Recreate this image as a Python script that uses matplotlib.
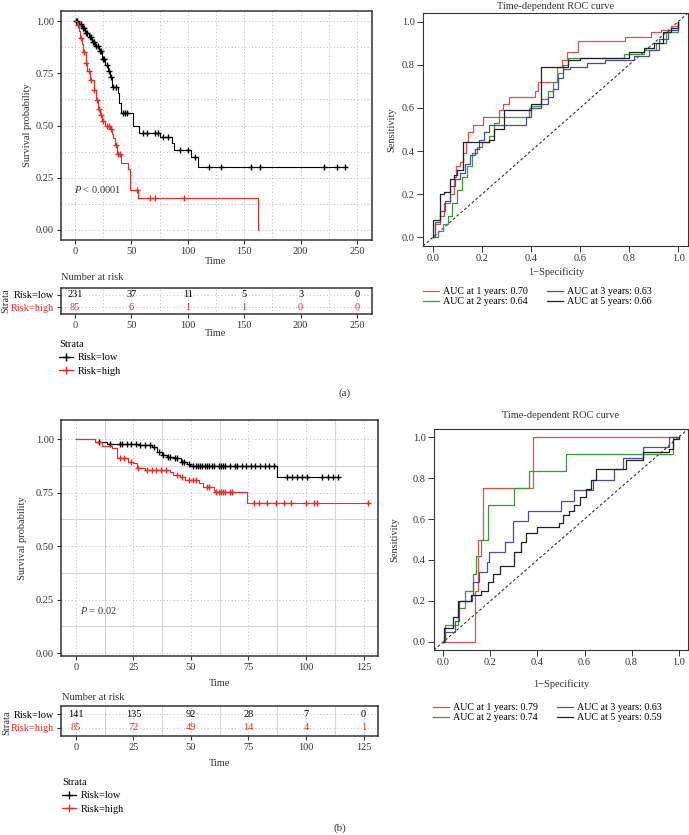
import numpy as np
import matplotlib
matplotlib.use('Agg')
import matplotlib.pyplot as plt
from matplotlib.lines import Line2D
from matplotlib.ticker import FormatStrFormatter

plt.rcParams['font.family'] = ['Liberation Serif', 'DejaVu Serif']
plt.rcParams['mathtext.fontset'] = 'custom'
plt.rcParams['mathtext.it'] = 'Liberation Serif:italic'

# ---------------- data: panel (a) ----------------
a_low_t = [0, 3, 6, 9, 12, 15, 18, 21, 24, 27, 29, 31, 33, 38, 39, 40.5, 51.5, 57, 75.5, 86, 87.5, 103, 109]
a_low_s = [1, .985, .965, .945, .925, .90, .88, .855, .82, .79, .76, .73, .685, .655, .61, .56, .496, .463, .446, .415, .383, .351, .303]
a_low_end = 239.4
a_low_cens = [1, 2, 4, 5, 7, 8, 10, 11, 13, 14, 16, 17, 19, 20, 22, 23, 25, 26, 28, 30, 32, 34, 36,
              42.5, 44, 46, 60.5, 63.5, 71, 74, 78, 82.5, 93, 100.5, 106, 119, 129, 155.6, 164, 220.7, 232, 239.4]

a_high_t = [0, 2, 3.5, 4.5, 6, 7.5, 9.5, 11, 13.5, 16.5, 18.5, 20, 22, 24, 27, 31, 33, 34, 35.5, 37, 41, 47.3, 48.8, 56.1, 162.5]
a_high_s = [1, .98, .95, .92, .89, .85, .80, .76, .72, .67, .62, .58, .55, .52, .50, .485, .46, .44, .405, .365, .32, .29, .19, .152, 0]
a_high_end = None
a_high_cens = [2.5, 5, 8, 10, 12, 14, 17, 19.5, 21, 23, 25, 28, 30, 32, 36, 38, 39.5, 55.2, 66.5, 70.9, 96.9]

a_risk_times = [0, 50, 100, 150, 200, 250]
a_risk_low = [231, 37, 11, 5, 3, 0]
a_risk_high = [85, 6, 1, 1, 0, 0]

# ROC curves (a): 1, 2, 3, 5 years
roc_a_fpr = {
    1: [0, 0.01, 0.03, 0.045, 0.07, 0.085, 0.095, 0.11, 0.125, 0.135, 0.145, 0.165, 0.205, 0.27, 0.285, 0.31,
        0.415, 0.43, 0.505, 0.525, 0.545, 0.59, 0.785, 0.89, 0.93, 0.97, 1.0],
    2: [0, 0.02, 0.04, 0.06, 0.08, 0.10, 0.12, 0.14, 0.16, 0.18, 0.20, 0.23, 0.25, 0.27, 0.39, 0.40, 0.44,
        0.47, 0.49, 0.51, 0.53, 0.55, 0.78, 0.86, 0.91, 0.95, 1.0],
    3: [0, 0.01, 0.03, 0.05, 0.07, 0.09, 0.11, 0.13, 0.15, 0.17, 0.19, 0.21, 0.23, 0.38, 0.40, 0.44, 0.47,
        0.49, 0.51, 0.53, 0.56, 0.63, 0.70, 0.82, 0.88, 0.92, 0.96, 1.0],
    5: [0, 0, 0.028, 0.045, 0.069, 0.085, 0.10, 0.125, 0.23, 0.25, 0.29, 0.40, 0.44, 0.55, 0.60, 0.80, 0.86,
        0.90, 0.94, 0.97, 1.0],
}
roc_a_tpr = {
    1: [0, .06, .10, .16, .20, .28, .33, .35, .39, .44, .49, .52, .56, .59, .62, .65, .68, .72, .79, .82,
        .86, .91, .93, .95, .96, .98, 1.0],
    2: [0, .03, .06, .10, .16, .22, .28, .33, .39, .42, .44, .47, .53, .56, .60, .61, .64, .68, .72, .76,
        .80, .83, .85, .87, .90, .95, 1.0],
    3: [0, .07, .12, .17, .24, .27, .30, .34, .38, .41, .45, .49, .52, .56, .60, .62, .65, .69, .74, .78,
        .79, .81, .82, .84, .87, .92, .96, 1.0],
    5: [0, .08, .20, .21, .27, .29, .31, .44, .45, .50, .59, .62, .79, .82, .83, .86, .88, .90, .95, .97, 1.0],
}
roc_a_auc = {1: 0.70, 2: 0.64, 3: 0.63, 5: 0.66}

# ---------------- data: panel (b) ----------------
b_low_t = [0, 8.3, 13.3, 27.8, 32.9, 35.3, 37.5, 39.7, 42.6, 45.5, 48.4, 49.5, 87.5]
b_low_s = [1, .987, .979, .972, .965, .941, .925, .917, .91, .894, .882, .874, .821]
b_low_end = 114
b_low_cens = [10, 15, 19, 20, 22, 24, 26, 28, 30, 32, 34, 36, 38, 40, 41, 43, 44, 46, 47, 49, 51, 52, 53,
              54, 55, 56, 57, 58, 59, 60, 62, 63, 64, 65, 67, 69, 70, 72, 74, 76, 78, 80, 82, 84, 86,
              91.6, 93.8, 96, 98.1, 100.3, 106.8, 109.7, 111.9, 114]

b_high_t = [0, 8.3, 11.2, 15.5, 17.7, 18, 22.7, 25, 26.4, 30, 40.9, 42.3, 45.2, 47.4, 53.7, 55.4, 59.8, 60.5, 74.5]
b_high_s = [1, .988, .967, .956, .933, .91, .894, .886, .863, .855, .847, .832, .824, .808, .793, .777, .762, .754, .702]
b_high_end = 127
b_high_cens = [19, 21, 24, 27, 31, 33, 35, 37, 39, 44, 46, 49, 51, 52, 57, 58, 61, 62, 63, 64, 65, 67, 68,
               77.5, 79.7, 83.2, 86.8, 90.4, 93.3, 99.8, 103.5, 105, 127]

b_risk_times = [0, 25, 50, 75, 100, 125]
b_risk_low = [141, 135, 92, 28, 7, 0]
b_risk_high = [85, 72, 49, 14, 4, 1]

roc_b_fpr = {
    1: [0, 0.133, 0.145, 0.167, 0.38, 1.0],
    2: [0, 0.005, 0.06, 0.09, 0.125, 0.14, 0.16, 0.19, 0.30, 0.365, 0.52, 0.975, 1.0],
    3: [0, 0.005, 0.05, 0.065, 0.12, 0.125, 0.15, 0.185, 0.195, 0.26, 0.295, 0.36, 0.50, 0.557, 0.635,
        0.727, 0.762, 0.847, 0.96, 1.0],
    5: [0, 0.003, 0.04, 0.06, 0.117, 0.16, 0.19, 0.21, 0.24, 0.30, 0.33, 0.35, 0.40, 0.49, 0.51, 0.535,
        0.557, 0.58, 0.606, 0.627, 0.65, 0.776, 0.85, 0.96, 0.975, 1.0],
}
roc_b_tpr = {
    1: [0, 0.25, 0.5, 0.75, 1.0, 1.0],
    2: [0, 0.083, 0.167, 0.25, 0.333, 0.417, 0.5, 0.667, 0.75, 0.833, 0.917, 1.0, 1.0],
    3: [0, 0.05, 0.10, 0.20, 0.23, 0.29, 0.34, 0.39, 0.44, 0.49, 0.59, 0.64, 0.69, 0.74, 0.79,
        0.845, 0.90, 0.95, 1.0, 1.0],
    5: [0, 0.068, 0.12, 0.20, 0.23, 0.25, 0.29, 0.33, 0.37, 0.44, 0.49, 0.53, 0.56, 0.58, 0.62, 0.64,
        0.67, 0.71, 0.745, 0.79, 0.845, 0.89, 0.93, 0.94, 0.99, 1.0],
}
roc_b_auc = {1: 0.79, 2: 0.74, 3: 0.63, 5: 0.59}

KM_RED = '#ee2a24'
ROC_COLORS = {1: '#d9534f', 2: '#3a9a3a', 3: '#4a4aa8', 5: '#222222'}

# ---------------- figure helpers ----------------
W, H = 689, 835
fig = plt.figure(figsize=(W / 100, H / 100), dpi=100)


def px_axes(l, t, r, b):
    return fig.add_axes([l / W, 1 - b / H, (r - l) / W, (b - t) / H])


def fx(x):
    return x / W


def fy(y):
    return 1 - y / H


def km_grid(ax, xmaj, xmin_, ymaj, ymin_, solid_minor):
    ax.set_xticks(xmaj)
    ax.set_xticks(xmin_, minor=True)
    ax.set_yticks(ymaj)
    if ymin_ is not None:
        ax.set_yticks(ymin_, minor=True)
    ax.grid(which='major', ls=(0, (1, 2.5)), color='#bdbdbd', lw=0.7)
    if solid_minor:
        ax.grid(which='minor', ls='-', color='#d6d6d6', lw=0.8)
    else:
        ax.grid(which='minor', ls=(0, (1, 2.5)), color='#bdbdbd', lw=0.7)
    ax.set_axisbelow(True)
    for sp in ax.spines.values():
        sp.set_linewidth(1.1)
        sp.set_color('#333333')
    ax.tick_params(which='major', direction='out', length=3, width=0.8, pad=2,
                   labelsize=7.5, color='#333333', labelcolor='#333333')
    ax.tick_params(which='minor', length=0)


def draw_km(ax, t, s, t_end, cens, color):
    t = list(t)
    s = list(s)
    if t_end is not None:
        t.append(t_end)
        s.append(s[-1])
    ax.plot(t, s, drawstyle='steps-post', color=color, lw=0.8)
    idx = np.searchsorted(t, cens, side='right') - 1
    ax.plot(cens, np.array(s)[idx], ls='none', marker='+', ms=5, mew=1.0, color=color)


def draw_risk(ax, times, low, high):
    for tt, n in zip(times, low):
        ax.text(tt, 1, str(n), ha='center', va='center', fontsize=7.5, color='black')
    for tt, n in zip(times, high):
        ax.text(tt, 0, str(n), ha='center', va='center', fontsize=7.5, color=KM_RED)
    ax.set_ylim(-0.58, 1.58)
    ax.set_yticks([0, 1])
    ax.set_yticklabels(['Risk=high', 'Risk=low'])
    ax.get_yticklabels()[0].set_color(KM_RED)
    ax.get_yticklabels()[1].set_color('black')


def strata_legend(x, y):
    handles = [Line2D([], [], color='black', lw=0.9, marker='+', ms=6, mew=1.0),
               Line2D([], [], color=KM_RED, lw=0.9, marker='+', ms=6, mew=1.0)]
    leg = fig.legend(handles, ['Risk=low', 'Risk=high'], title='Strata', loc='upper left',
                     bbox_to_anchor=(fx(x), fy(y)), frameon=False, fontsize=7.5,
                     title_fontsize=7.5, alignment='left', handlelength=1.3, handletextpad=0.5,
                     labelspacing=0.38, borderpad=0, borderaxespad=0)
    return leg


def draw_roc(ax, fpr, tpr, auc, title, title_pad, leg_xy, colspace):
    ax.axline((0, 0), (1, 1), color='#333333', lw=0.8, ls=(0, (2.5, 2)))
    handles = []
    for yr in [1, 2, 3, 5]:
        ln, = ax.plot(fpr[yr], tpr[yr], drawstyle='steps-post', color=ROC_COLORS[yr], lw=0.9)
        handles.append(ln)
    ax.set_xlim(-0.04, 1.04)
    ax.set_ylim(-0.04, 1.04)
    ax.set_xticks(np.arange(0, 1.01, 0.2))
    ax.set_yticks(np.arange(0, 1.01, 0.2))
    ax.xaxis.set_major_formatter(FormatStrFormatter('%.1f'))
    ax.yaxis.set_major_formatter(FormatStrFormatter('%.1f'))
    ax.tick_params(direction='out', length=4, width=0.7, pad=2, labelsize=7.5,
                   color='#333333', labelcolor='#333333')
    for sp in ax.spines.values():
        sp.set_linewidth(0.8)
        sp.set_color('#333333')
    ax.set_title(title, fontsize=7.5, pad=title_pad, color='#333333')
    labels = ['AUC at %d years: %.2f' % (yr, auc[yr]) for yr in [1, 2, 3, 5]]
    fig.legend(handles, labels, ncol=2, loc='upper left', bbox_to_anchor=(fx(leg_xy[0]), fy(leg_xy[1])),
               frameon=False, fontsize=7.2, handlelength=1.6, handletextpad=0.4,
               columnspacing=colspace, labelspacing=0.15, borderpad=0, borderaxespad=0)


# ---------------- panel (a) ----------------
ax1 = px_axes(61, 11, 372, 240)
draw_km(ax1, a_low_t, a_low_s, a_low_end, a_low_cens, 'black')
draw_km(ax1, a_high_t, a_high_s, a_high_end, a_high_cens, KM_RED)
ax1.set_xlim(-12.4, 263.3)
ax1.set_ylim(-0.048, 1.048)
km_grid(ax1, [0, 50, 100, 150, 200, 250], [25, 75, 125, 175, 225], [0, 0.25, 0.5, 0.75, 1.0],
        [0.125, 0.375, 0.625, 0.875], False)
ax1.yaxis.set_major_formatter(FormatStrFormatter('%.2f'))
ax1.text(-1, 0.196, r'$\mathit{P}$ < 0.0001', fontsize=7.5, va='center', ha='left', color='#333333')
ax1.set_xlabel('Time', fontsize=7.5, va='center', color='#333333')
ax1.xaxis.set_label_coords(fx(216), fy(261), transform=fig.transFigure)
ax1.set_ylabel('Survival probability', fontsize=7.5, va='center', color='#333333')
ax1.yaxis.set_label_coords(fx(28), fy(125), transform=fig.transFigure)

ax1t = px_axes(61, 288, 372, 314)
ax1t.set_xlim(-12.4, 263.3)
km_grid(ax1t, a_risk_times, [25, 75, 125, 175, 225], [0, 1], None, False)
draw_risk(ax1t, a_risk_times, a_risk_low, a_risk_high)
ax1t.set_xlabel('Time', fontsize=7.5, va='center', color='#333333')
ax1t.xaxis.set_label_coords(fx(216), fy(333), transform=fig.transFigure)
ax1t.set_ylabel('Strata', fontsize=7.5, va='center', color='#333333')
ax1t.yaxis.set_label_coords(fx(6), fy(301), transform=fig.transFigure)
fig.text(fx(61), fy(277), 'Number at risk', fontsize=7.5, va='center', ha='left', color='#333333')
strata_legend(59, 340)

ax2 = px_axes(423, 13, 688, 246)
draw_roc(ax2, roc_a_fpr, roc_a_tpr, roc_a_auc, 'Time-dependent ROC curve', 3, (423, 287), 1.9)
ax2.set_xlabel('1\u2212Specificity', fontsize=7.5, va='center', color='#333333')
ax2.xaxis.set_label_coords(fx(556), fy(272), transform=fig.transFigure)
ax2.set_ylabel('Sensitivity', fontsize=7.5, va='center', color='#333333')
ax2.yaxis.set_label_coords(fx(392), fy(130), transform=fig.transFigure)

fig.text(fx(345), fy(393), '(a)', fontsize=8, ha='center', va='center', color='#333333')

# ---------------- panel (b) ----------------
ax3 = px_axes(61, 420, 378, 656)
draw_km(ax3, b_low_t, b_low_s, b_low_end, b_low_cens, 'black')
draw_km(ax3, b_high_t, b_high_s, b_high_end, b_high_cens, KM_RED)
ax3.set_xlim(-6.5, 131.3)
ax3.set_ylim(-0.014, 1.089)
km_grid(ax3, [0, 25, 50, 75, 100, 125], [12.5, 37.5, 62.5, 87.5, 112.5], [0, 0.25, 0.5, 0.75, 1.0],
        [0.125, 0.375, 0.625, 0.875], True)
ax3.yaxis.set_major_formatter(FormatStrFormatter('%.2f'))
ax3.text(1.7, 0.198, r'$\mathit{P}$ = 0.02', fontsize=7.5, va='center', ha='left', color='#333333')
ax3.set_xlabel('Time', fontsize=7.5, va='center', color='#333333')
ax3.xaxis.set_label_coords(fx(220), fy(683), transform=fig.transFigure)
ax3.set_ylabel('Survival probability', fontsize=7.5, va='center', color='#333333')
ax3.yaxis.set_label_coords(fx(23), fy(538), transform=fig.transFigure)

ax3t = px_axes(61, 706, 378, 736)
ax3t.set_xlim(-6.5, 131.3)
km_grid(ax3t, b_risk_times, [12.5, 37.5, 62.5, 87.5, 112.5], [0, 1], None, True)
draw_risk(ax3t, b_risk_times, b_risk_low, b_risk_high)
ax3t.set_xlabel('Time', fontsize=7.5, va='center', color='#333333')
ax3t.xaxis.set_label_coords(fx(220), fy(763), transform=fig.transFigure)
ax3t.set_ylabel('Strata', fontsize=7.5, va='center', color='#333333')
ax3t.yaxis.set_label_coords(fx(7), fy(723), transform=fig.transFigure)
fig.text(fx(62), fy(698), 'Number at risk', fontsize=7.5, va='center', ha='left', color='#333333')
strata_legend(62, 778)

ax4 = px_axes(434, 429, 688, 650)
draw_roc(ax4, roc_b_fpr, roc_b_tpr, roc_b_auc, 'Time-dependent ROC curve', 8, (433, 703), 1.9)
ax4.set_xlabel('1\u2212Specificity', fontsize=7.5, va='center', color='#333333')
ax4.xaxis.set_label_coords(fx(561), fy(684), transform=fig.transFigure)
ax4.set_ylabel('Sensitivity', fontsize=7.5, va='center', color='#333333')
ax4.yaxis.set_label_coords(fx(395), fy(540), transform=fig.transFigure)

fig.text(fx(340), fy(828), '(b)', fontsize=8, ha='center', va='center', color='#333333')

fig.savefig('out.png', dpi=100)
